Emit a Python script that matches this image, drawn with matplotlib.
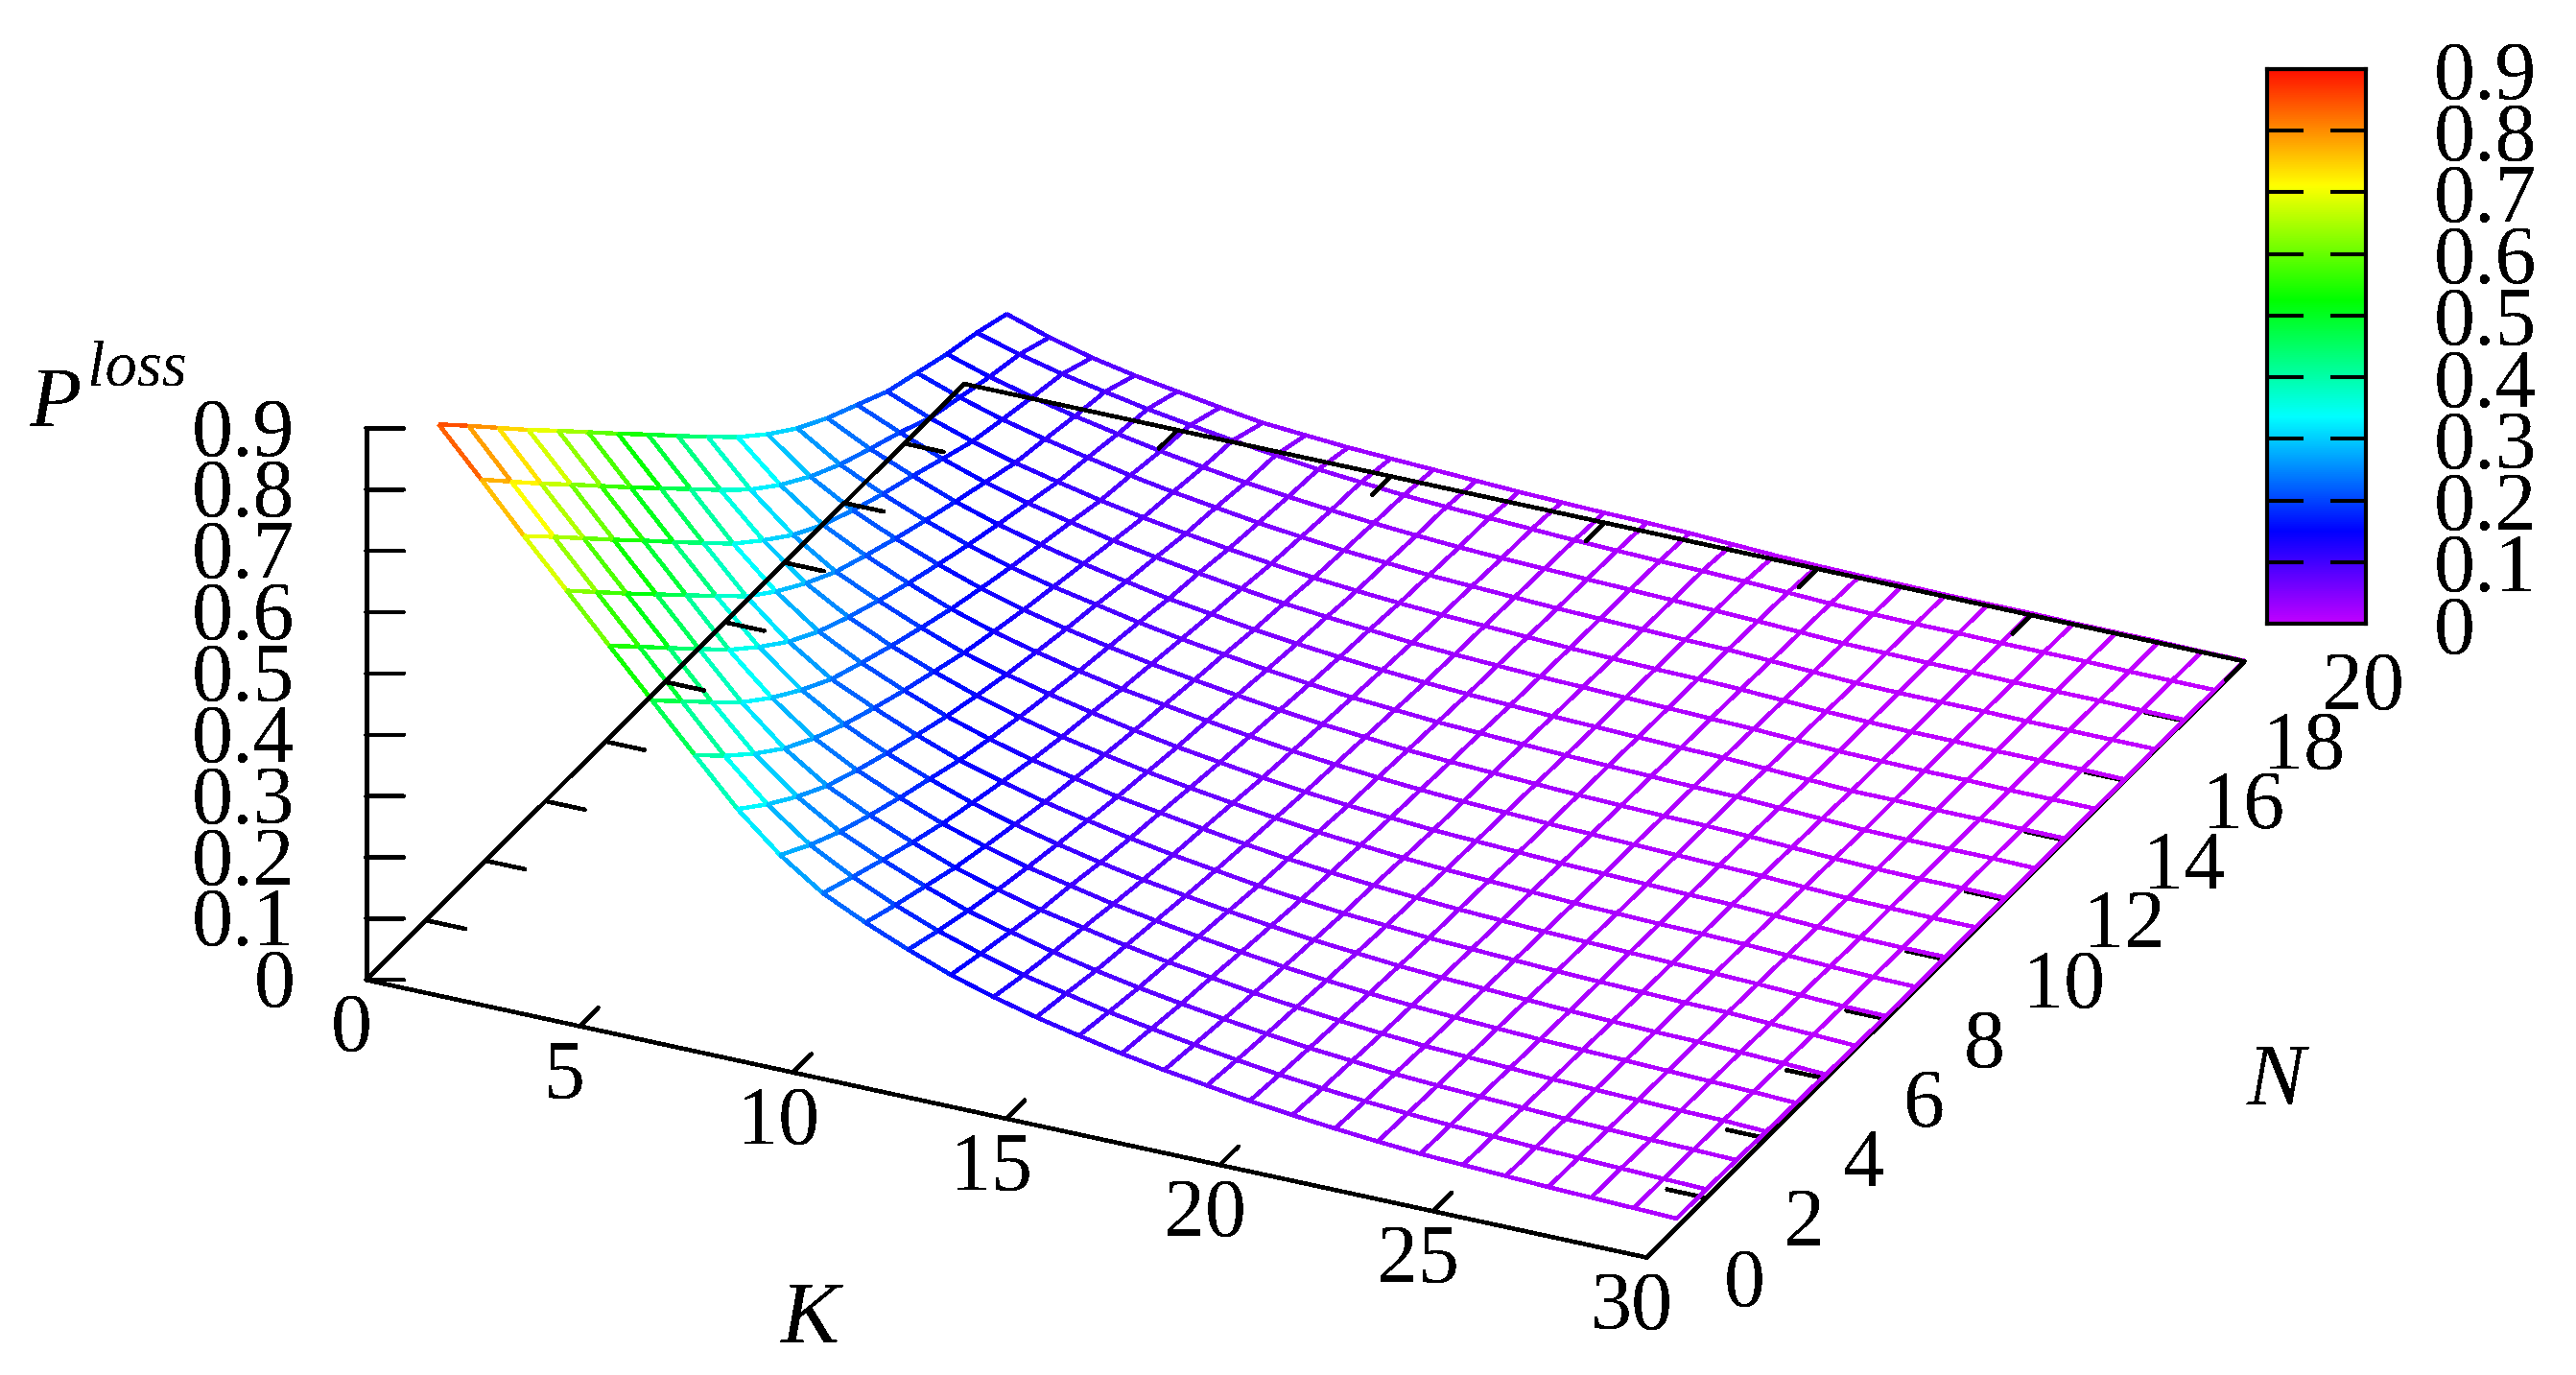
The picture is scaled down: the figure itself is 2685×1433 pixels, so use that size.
#!/usr/bin/python3

import numpy as np
import matplotlib
matplotlib.use("Agg")
import matplotlib.pyplot as plt
from matplotlib.colors import LinearSegmentedColormap, Normalize
from mpl_toolkits.mplot3d import proj3d
from mpl_toolkits.mplot3d.art3d import Line3DCollection

plt.rcParams['font.family'] = ['Liberation Serif', 'DejaVu Serif']
plt.rcParams['text.antialiased'] = False

# grid of the surface
k_values = list(range(1, 31))
n_values = list(range(1, 21))

# P loss, one row for each N, one column for each K
p_n01 = [.873, .798, .721, .647, .572, .498, .424, .351, .291, .244, .211, .182, .156, .135, .117, .102, .088, .076, .066, .056, .048, .041, .035, .030, .027, .024, .021, .019, .017, .015]
p_n02 = [.822, .746, .671, .596, .522, .448, .374, .310, .259, .222, .191, .164, .142, .122, .107, .092, .080, .069, .059, .050, .043, .037, .032, .028, .025, .022, .020, .018, .016, .014]
p_n03 = [.770, .694, .620, .545, .471, .398, .329, .274, .232, .201, .173, .148, .129, .111, .096, .083, .072, .062, .053, .045, .039, .033, .029, .026, .023, .020, .018, .016, .015, .013]
p_n04 = [.718, .644, .569, .495, .421, .349, .289, .243, .210, .181, .155, .134, .116, .102, .088, .076, .066, .056, .048, .041, .035, .030, .027, .024, .021, .019, .017, .015, .014, .011]
p_n05 = [.668, .593, .519, .445, .371, .308, .257, .220, .190, .163, .141, .122, .107, .092, .080, .069, .059, .050, .043, .037, .032, .028, .025, .022, .020, .018, .016, .014, .012, .009]
p_n06 = [.617, .542, .468, .395, .327, .272, .231, .199, .172, .148, .128, .111, .096, .083, .072, .062, .053, .045, .039, .033, .029, .026, .023, .020, .018, .016, .015, .013, .010, .007]
p_n07 = [.566, .492, .418, .346, .287, .241, .209, .180, .154, .134, .116, .101, .087, .075, .065, .055, .047, .040, .035, .030, .027, .024, .021, .019, .017, .015, .014, .011, .008, .005]
p_n08 = [.516, .442, .368, .305, .255, .219, .189, .162, .140, .121, .106, .091, .080, .069, .059, .050, .043, .037, .032, .028, .025, .022, .020, .018, .016, .014, .012, .009, .006, .005]
p_n09 = [.465, .392, .325, .270, .230, .198, .171, .147, .127, .110, .096, .083, .072, .062, .053, .045, .039, .033, .029, .026, .023, .020, .018, .016, .015, .013, .010, .007, .005, .004]
p_n10 = [.415, .344, .285, .240, .208, .179, .153, .133, .116, .101, .087, .075, .065, .055, .047, .040, .035, .030, .027, .024, .021, .019, .017, .015, .014, .011, .008, .005, .004, .004]
p_n11 = [.366, .303, .253, .218, .188, .161, .139, .121, .105, .091, .080, .069, .059, .050, .043, .037, .032, .028, .025, .022, .020, .018, .016, .014, .012, .009, .006, .005, .004, .004]
p_n12 = [.322, .268, .228, .197, .170, .146, .126, .110, .096, .083, .072, .062, .053, .045, .039, .033, .029, .026, .023, .020, .018, .016, .015, .013, .010, .007, .005, .004, .004, .003]
p_n13 = [.283, .239, .206, .178, .153, .132, .115, .101, .087, .075, .065, .055, .047, .040, .035, .030, .027, .024, .021, .019, .017, .015, .014, .011, .008, .005, .004, .004, .004, .003]
p_n14 = [.251, .216, .187, .160, .138, .120, .104, .090, .077, .067, .057, .049, .042, .036, .031, .027, .024, .021, .019, .017, .015, .014, .011, .008, .005, .005, .004, .004, .003, .003]
p_n15 = [.224, .194, .166, .143, .124, .108, .093, .081, .070, .060, .051, .044, .038, .032, .028, .025, .022, .020, .018, .016, .014, .012, .009, .006, .005, .004, .004, .003, .003, .003]
p_n16 = [.197, .169, .146, .126, .110, .095, .082, .071, .061, .052, .044, .038, .033, .029, .026, .023, .020, .018, .016, .015, .013, .010, .007, .005, .004, .004, .003, .003, .003, .002]
p_n17 = [.179, .154, .133, .116, .101, .087, .075, .065, .055, .047, .040, .035, .030, .027, .024, .021, .019, .017, .015, .014, .011, .008, .005, .004, .004, .004, .003, .003, .003, .003]
p_n18 = [.161, .139, .121, .105, .091, .078, .067, .057, .049, .042, .036, .031, .027, .024, .022, .020, .018, .016, .014, .012, .009, .006, .005, .004, .004, .003, .003, .003, .002, .002]
p_n19 = [.147, .127, .110, .096, .083, .072, .062, .053, .045, .039, .033, .029, .026, .023, .020, .018, .016, .015, .013, .010, .007, .005, .004, .004, .003, .003, .003, .002, .002, .002]
p_n20 = [.129, .106, .088, .074, .063, .052, .042, .037, .032, .029, .026, .023, .020, .018, .016, .015, .013, .010, .007, .005, .004, .004, .003, .003, .003, .002, .002, .002, .001, .001]

p_rows = [p_n01, p_n02, p_n03, p_n04, p_n05, p_n06, p_n07, p_n08, p_n09, p_n10,
          p_n11, p_n12, p_n13, p_n14, p_n15, p_n16, p_n17, p_n18, p_n19, p_n20]

# axis ticks
k_ticks = [0, 5, 10, 15, 20, 25, 30]
n_ticks = [0, 2, 4, 6, 8, 10, 12, 14, 16, 18, 20]
z_ticks = [0, 0.1, 0.2, 0.3, 0.4, 0.5, 0.6, 0.7, 0.8, 0.9]
z_labels = ['0', '0.1', '0.2', '0.3', '0.4', '0.5', '0.6', '0.7', '0.8', '0.9']

W, H = 2685, 1433
FONT = 62
BLACK_LW = 2.5
MESH_LW = 2.4

cmap = LinearSegmentedColormap.from_list('rainbow_gp', [
    (0.0, '#c000ff'), (0.166, '#0000ff'), (0.373, '#00ffff'),
    (0.584, '#00ff00'), (0.791, '#ffff00'), (1.0, '#ff1000')])
norm = Normalize(0, 0.9)


def fig_xy(x, y):
    # pixel position in the image, y going down
    return x / W, 1 - y / H


def black_line(ax, xs, ys, zs, zorder):
    ax.plot(xs, ys, zs, color='black', lw=BLACK_LW, zorder=zorder, antialiased=False,
            solid_capstyle='round', solid_joinstyle='miter')


def label_at(ax, x, y, z, text, **kwargs):
    # flat text at the projected place of a 3d point
    x2, y2, _ = proj3d.proj_transform(x, y, z, ax.get_proj())
    ax.text2D(x2, y2, text, transform=ax.transData, fontsize=FONT, va='center', **kwargs)


fig = plt.figure(figsize=(W / 100, H / 100), dpi=100)
side = 2119
ax = fig.add_axes([272.4 / W, -223 / H, side / W, side / H],
                  projection='3d', proj_type='ortho', computed_zorder=False)
ax.view_init(elev=27.7, azim=-65)
ax.set_box_aspect((1472, 1474, 649))
ax.set_xlim(0, 30, view_margin=0)
ax.set_ylim(0, 20, view_margin=0)
ax.set_zlim(0, 0.9, view_margin=0)
# the gnuplot style box is drawn by hand below, so no built in ticks
ax.set_xticks([])
ax.set_yticks([])
ax.set_zticks([])
ax.set_axis_off()
ax.set_autoscale_on(False)

# border part that sits under the surface
black_line(ax, [0, 30, 30], [0, 0, 20], [0, 0, 0], 1)
for n in n_ticks:
    black_line(ax, [30, 29.08], [n, n], [0, 0], 1)

# surface mesh, every piece takes its colour from its height
p = np.array(p_rows)
segs = []
vals = []
for i, n in enumerate(n_values):
    for j, k in enumerate(k_values):
        if j + 1 < len(k_values):
            segs.append([(k, n, p[i, j]), (k + 1, n, p[i, j + 1])])
            vals.append((p[i, j] + p[i, j + 1]) / 2)
        if i + 1 < len(n_values):
            segs.append([(k, n, p[i, j]), (k, n + 1, p[i + 1, j])])
            vals.append((p[i, j] + p[i + 1, j]) / 2)
mesh = Line3DCollection(segs, colors=cmap(norm(np.array(vals))), linewidths=MESH_LW,
                        zorder=2, antialiaseds=False)
ax.add_collection3d(mesh, autolim=False)

# border and ticks on top of it
black_line(ax, [0, 0, 30], [0, 20, 20], [0, 0, 0], 3)
black_line(ax, [0, 0], [0, 0], [0, 0.9], 3)
for k in k_ticks:
    black_line(ax, [k, k], [0, 0.62], [0, 0], 3)
    black_line(ax, [k, k], [20, 19.38], [0, 0], 3)
    label_at(ax, k + 0.7, -1.49, 0, str(k), ha='center')
for n in n_ticks:
    black_line(ax, [0, 0.92], [n, n], [0, 0], 3)
    label_at(ax, 32.03, n - 0.30, 0, str(n), ha='left')
for z, label in zip(z_ticks, z_labels):
    black_line(ax, [0, 0.72], [0, 0.224], [z, z], 3)
    label_at(ax, -1.24, -0.61, z, label, ha='right')

# axis titles
fig.text(*fig_xy(31, 443), 'P', fontsize=64, style='italic', ha='left', va='baseline')
fig.text(*fig_xy(91, 402), 'loss', fontsize=48, style='italic', ha='left', va='baseline')
fig.text(*fig_xy(845, 1377), 'K', fontsize=66, style='italic', ha='center', va='center')
fig.text(*fig_xy(2372, 1129), 'N', fontsize=66, style='italic', ha='center', va='center')

# colour box
box_x0, box_x1, box_y0, box_y1 = 2363, 2466, 72, 650
cax = fig.add_axes([box_x0 / W, 1 - box_y1 / H, (box_x1 - box_x0) / W, (box_y1 - box_y0) / H])
cax.imshow(np.linspace(0, 0.9, 512)[:, None], origin='lower', aspect='auto', cmap=cmap, norm=norm,
           extent=[0, 1, 0, 0.9])
cax.set_xticks([])
cax.set_yticks(z_ticks, z_labels)
cax.tick_params(axis='y', left=True, right=True, labelleft=False, labelright=True,
                direction='in', length=27, width=2.9, labelsize=FONT, pad=51)
for spine in cax.spines.values():
    spine.set_linewidth(3)

fig.savefig('out.png', dpi=100)
